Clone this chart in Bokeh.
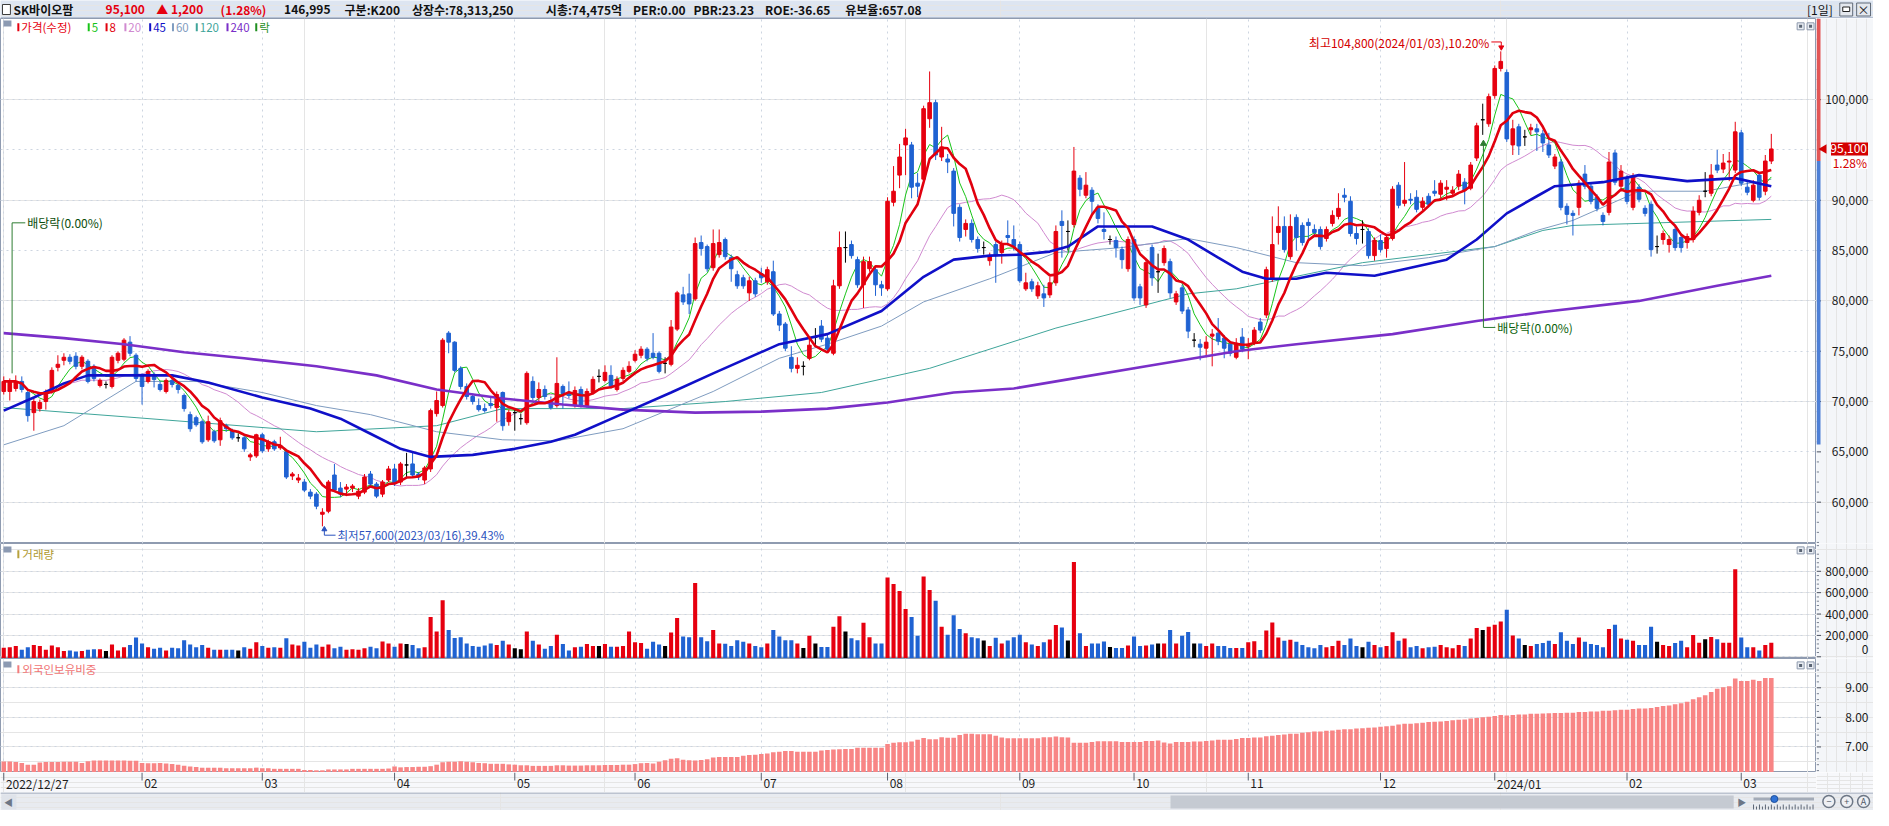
import pandas as pd
from bokeh.plotting import figure
from bokeh.models import Range1d, FixedTicker, Grid, ColumnDataSource
from bokeh.layouts import column, row
from bokeh.embed import file_html
from bokeh.resources import INLINE
from bokeh.core.properties import value

# ------------------------------------------------------------------ data
OPEN = [
    71000, 71000, 71300, 72000, 70900, 68900, 69300, 70000, 71000, 73400,
    74100, 74400, 74500, 73500, 74000, 73500, 71600, 71700, 71500, 74100,
    74200, 75900, 74600, 72600, 72000, 72700, 71700, 71000, 72100, 71600,
    70600, 68700, 68400, 68000, 66200, 67000, 66200, 67600, 67100, 66400,
    66400, 64500, 64600, 66700, 65300, 66000, 65400, 65000, 62600, 62200,
    62000, 61000, 60800, 58800, 59100, 62700, 61400, 61300, 61400, 60600,
    61000, 62800, 61800, 60800, 62200, 63300, 62000, 63700, 63800, 62800,
    62200, 63300, 68800, 69600, 76800, 75900, 73300, 71500, 70500, 69600,
    69300, 69800, 69400, 70900, 68000, 68900, 68300, 67900, 72000, 70400,
    71200, 70100, 69600, 71500, 70900, 69600, 71200, 69600, 70900, 72500,
    72100, 72600, 71200, 72300, 73000, 74100, 74600, 75200, 74800, 74800,
    73800, 73700, 77200, 80600, 80700, 80200, 85800, 85400, 83300, 84600,
    86100, 84300, 82600, 82300, 80800, 82000, 82700, 81900, 82900, 78700,
    77700, 74400, 73300, 73500, 74300, 76400, 77500, 76300, 74800, 81500,
    85300, 85600, 84100, 81600, 83200, 83100, 81600, 81200, 89800, 92500,
    95500, 95500, 91700, 92100, 98100, 99700, 94300, 94100, 92900, 89300,
    87100, 87700, 86100, 85300, 84000, 85600, 84800, 86500, 86100, 85600,
    81200, 81900, 80500, 80700, 80600, 81800, 87900, 86900, 87600, 92200,
    90500, 91000, 89300, 87100, 86100, 86000, 85100, 83200, 86100, 81400,
    79600, 85300, 82900, 83800, 83900, 79900, 81300, 79100, 76100, 75700,
    75300, 76500, 76800, 76300, 75700, 74400, 76400, 75500, 75900, 77900,
    78600, 82200, 86800, 87400, 84400, 88300, 87500, 87800, 87100, 87100,
    86200, 87700, 88400, 90500, 89900, 86700, 87100, 86900, 84500, 86000,
    85200, 86200, 91500, 89700, 90100, 90300, 89300, 90400, 90900, 90600,
    91100, 90700, 91400, 91800, 91200, 94200, 98000, 97600, 100400, 103100,
    102700, 95500, 97300, 96300, 97000, 97100, 96600, 95500, 93400, 93800,
    89400, 88700, 89300, 92600, 91400, 90300, 88500, 88800, 94700, 91400,
    92200, 89300, 91300, 89200, 89600, 85400, 86100, 85600, 87100, 86300,
    85800, 86100, 88800, 90900, 90700, 93500, 93100, 93800, 93000, 96700,
    91300, 90000, 92500, 90900, 93900]
CLOSE = [
    72000, 72000, 72000, 71200, 68600, 70000, 69900, 70900, 73100, 73700,
    74400, 74000, 73500, 74400, 72000, 72300, 72100, 71700, 74400, 74800,
    76100, 74800, 72300, 71500, 73000, 72200, 71200, 72100, 71700, 71200,
    69300, 67300, 67700, 66000, 68000, 66100, 68100, 67300, 66400, 66400,
    65300, 64700, 66700, 65100, 66000, 65300, 65600, 62500, 62800, 62400,
    61200, 60600, 59600, 59000, 62000, 61200, 60800, 61500, 61600, 61100,
    62500, 61800, 60600, 62000, 63300, 61900, 63800, 63700, 62700, 62500,
    63400, 69100, 70100, 76100, 75900, 73100, 71500, 70500, 70000, 69200,
    69100, 69600, 70700, 67600, 68900, 68900, 68300, 72800, 70400, 71200,
    70500, 69400, 71800, 70800, 70600, 71100, 69600, 71000, 72200, 72500,
    72900, 71500, 72200, 73100, 73500, 74700, 75200, 74300, 74400, 73000,
    73800, 77400, 80800, 79900, 79700, 85700, 85200, 83200, 85700, 85800,
    84400, 83200, 81500, 81500, 82000, 80700, 82300, 83100, 78700, 77600,
    75300, 73300, 73600, 73500, 75600, 76400, 76200, 75200, 81500, 85300,
    85300, 84500, 81600, 83900, 83900, 81600, 81300, 89900, 90900, 94300,
    96200, 91300, 91400, 99100, 99700, 94500, 95300, 93800, 88700, 86300,
    87700, 86100, 85200, 85300, 84500, 84500, 85600, 86300, 85400, 82000,
    81800, 81200, 81500, 80300, 81800, 86900, 87500, 86900, 92900, 91100,
    91500, 89900, 88200, 86900, 86100, 85300, 84100, 86100, 80300, 80300,
    83800, 82300, 82900, 85200, 80800, 80700, 79000, 77000, 76100, 75400,
    75900, 76700, 76000, 75300, 74800, 75800, 75200, 75700, 77100, 77100,
    83100, 85600, 87400, 85100, 87400, 86300, 85800, 87500, 86800, 85400,
    87100, 88500, 89200, 90300, 86700, 86200, 87100, 84500, 86000, 85100,
    86300, 91100, 89500, 90000, 90000, 89100, 89900, 89600, 90700, 91700,
    91300, 91000, 92600, 91000, 93500, 97400, 98000, 100300, 103100, 103800,
    96100, 97100, 95400, 96300, 97200, 96800, 95700, 94500, 94300, 89300,
    88600, 88500, 91700, 91400, 89900, 89200, 87900, 93800, 91800, 92900,
    89900, 92400, 90100, 88700, 85100, 85400, 86700, 86100, 85300, 85300,
    86400, 88900, 90000, 90900, 92500, 93000, 93700, 93900, 96800, 91700,
    90800, 91500, 90300, 93900, 95100]
HIGH = [
    72500, 72300, 72600, 72500, 71200, 70300, 70200, 71200, 73400, 74600,
    74800, 74700, 74900, 74600, 74200, 73700, 72300, 72000, 74600, 75000,
    76300, 76500, 74800, 72800, 73200, 72900, 72000, 72300, 72300, 71800,
    70800, 69000, 68600, 68200, 68600, 67200, 68400, 67800, 67300, 66800,
    66600, 64900, 66800, 66900, 66200, 66200, 66500, 65200, 63000, 62800,
    62300, 61300, 61000, 59400, 62200, 63800, 62000, 61800, 61800, 61400,
    62800, 63100, 62000, 62200, 63600, 63800, 64000, 64900, 64900, 63000,
    63600, 69300, 71000, 76300, 77000, 76000, 73500, 71800, 70800, 70300,
    69800, 70500, 71000, 71000, 69200, 69300, 68800, 73000, 72500, 71900,
    71600, 70500, 74400, 71700, 72000, 71500, 71500, 71300, 72500, 73200,
    73600, 73600, 72500, 73400, 74000, 75100, 75500, 75400, 76800, 75000,
    74400, 78100, 81000, 81400, 82700, 86300, 86500, 85600, 87100, 87100,
    86300, 84600, 83000, 82600, 82400, 82300, 83300, 83400, 84000, 79000,
    77900, 75500, 74400, 74000, 76300, 77300, 78100, 76800, 82100, 86900,
    86900, 86000, 84400, 84400, 84400, 83400, 82000, 90300, 93400, 95600,
    97100, 95800, 92700, 99400, 102800, 100000, 97300, 94600, 93200, 89600,
    88100, 88100, 86400, 85900, 84800, 85900, 86000, 88000, 87500, 85900,
    82800, 82200, 81900, 81600, 82400, 87500, 89000, 88000, 95300, 92500,
    92800, 91300, 89600, 88800, 86500, 86400, 85400, 86400, 86400, 81700,
    84100, 85600, 84700, 85500, 84200, 81000, 81600, 79400, 76800, 76200,
    76500, 77200, 78300, 76600, 76000, 76300, 77300, 76300, 77400, 78300,
    83400, 88400, 89400, 88400, 88600, 88600, 87800, 88200, 87600, 87400,
    87400, 89000, 90700, 91200, 90400, 87400, 88000, 87200, 86300, 86600,
    86600, 91400, 91800, 93800, 90700, 91000, 90300, 90700, 92000, 92000,
    92000, 91400, 93000, 92200, 93800, 97700, 99600, 100600, 103400, 104800,
    103000, 98000, 97600, 97000, 97600, 97600, 97000, 96700, 94600, 94100,
    89700, 89000, 92000, 93500, 91700, 90600, 88800, 94800, 95000, 93500,
    92500, 92700, 91600, 89500, 89900, 86500, 87000, 86500, 87400, 86600,
    86700, 89400, 90500, 92800, 93600, 95000, 94600, 94800, 97800, 97000,
    91800, 92000, 92800, 94500, 96600]
LOW = [
    70700, 70100, 71000, 70900, 68000, 67100, 69000, 69200, 70800, 73000,
    73600, 73700, 73200, 73200, 71800, 72000, 71400, 71300, 71300, 73800,
    74000, 74500, 72000, 69700, 71800, 71400, 71000, 70800, 71400, 70800,
    69000, 67000, 67500, 65800, 66000, 65900, 65600, 67000, 66200, 66000,
    65000, 64100, 64400, 64900, 65000, 65100, 65200, 62300, 62200, 61900,
    61000, 60300, 59300, 57600, 58900, 61000, 60500, 60600, 61000, 60300,
    60800, 61500, 60400, 60500, 62000, 61600, 61700, 62400, 62400, 62200,
    61800, 63000, 68500, 69400, 74800, 72900, 71200, 70200, 69700, 69000,
    68900, 69300, 68000, 67100, 67600, 67100, 67700, 67700, 70100, 70000,
    70200, 69200, 69400, 69300, 70300, 69400, 69400, 69400, 70700, 71900,
    71900, 71300, 71000, 72000, 72800, 73900, 74300, 74000, 74200, 72800,
    72800, 73500, 77000, 79600, 78700, 80000, 84500, 82900, 83000, 84300,
    84100, 81900, 81200, 81200, 80000, 80400, 81800, 81600, 78500, 77000,
    75000, 72900, 72800, 72600, 74100, 75600, 75900, 75000, 74600, 81200,
    83800, 84200, 81300, 79300, 82900, 80500, 80500, 81000, 89400, 91200,
    92500, 90200, 90300, 91900, 97200, 94000, 93900, 92700, 87400, 85900,
    86400, 85800, 84800, 84600, 83500, 81800, 83700, 85500, 85000, 81800,
    81000, 80900, 80200, 79400, 80300, 81500, 84300, 85000, 87300, 90400,
    90200, 88600, 87700, 86100, 85600, 84300, 83200, 82900, 80000, 79600,
    79300, 81500, 80800, 83500, 80300, 79600, 78700, 76300, 75400, 74100,
    74400, 73500, 75600, 74300, 74500, 74200, 74900, 74200, 75600, 76800,
    78300, 81900, 85600, 84800, 84100, 85000, 85500, 86000, 86500, 85100,
    85900, 87400, 88100, 89800, 86400, 85600, 85700, 84200, 84000, 84800,
    84300, 86000, 89200, 89400, 89600, 88800, 89000, 89300, 90400, 90200,
    90000, 90400, 91000, 89600, 91000, 93900, 96500, 97300, 100100, 102800,
    95800, 94500, 94500, 95400, 96500, 94900, 94800, 94200, 93100, 89000,
    87600, 86500, 88500, 91100, 89600, 88900, 87500, 88500, 91500, 91100,
    89600, 89000, 89800, 88400, 84400, 84700, 85600, 84800, 85000, 84800,
    85200, 85800, 88500, 90300, 90400, 92700, 92700, 91900, 92700, 91400,
    90500, 89800, 90000, 90500, 93600]
VOLUME = [
    85000, 90000, 100000, 65000, 90000, 110000, 100000, 65000, 105000, 90000,
    55000, 60000, 50000, 55000, 65000, 70000, 70000, 55000, 115000, 60000,
    90000, 110000, 180000, 125000, 90000, 75000, 85000, 60000, 85000, 80000,
    155000, 115000, 90000, 110000, 85000, 65000, 65000, 65000, 65000, 60000,
    90000, 75000, 136000, 100000, 85000, 90000, 85000, 173000, 115000, 105000,
    140000, 85000, 115000, 95000, 115000, 80000, 95000, 65000, 70000, 65000,
    80000, 95000, 80000, 142000, 125000, 95000, 125000, 120000, 110000, 80000,
    90000, 373000, 236000, 530000, 251000, 176000, 182000, 125000, 100000, 95000,
    105000, 125000, 110000, 150000, 115000, 80000, 70000, 236000, 150000, 115000,
    75000, 100000, 206000, 120000, 60000, 90000, 95000, 120000, 100000, 100000,
    120000, 95000, 95000, 100000, 236000, 135000, 130000, 75000, 140000, 115000,
    100000, 227000, 364000, 191000, 182000, 691000, 182000, 145000, 251000, 124000,
    121000, 100000, 155000, 140000, 124000, 100000, 90000, 124000, 251000, 191000,
    155000, 155000, 124000, 82000, 197000, 124000, 91000, 91000, 282000, 379000,
    236000, 173000, 155000, 318000, 182000, 124000, 124000, 742000, 682000, 615000,
    448000, 373000, 197000, 751000, 624000, 524000, 282000, 206000, 388000, 261000,
    221000, 182000, 173000, 152000, 100000, 179000, 124000, 152000, 182000, 206000,
    136000, 115000, 100000, 136000, 161000, 297000, 273000, 152000, 888000, 221000,
    100000, 124000, 124000, 142000, 91000, 82000, 82000, 106000, 191000, 100000,
    106000, 115000, 124000, 124000, 251000, 124000, 197000, 233000, 124000, 124000,
    100000, 124000, 100000, 100000, 82000, 82000, 82000, 136000, 145000, 64000,
    245000, 320000, 180000, 150000, 160000, 140000, 110000, 90000, 80000, 110000,
    90000, 100000, 150000, 110000, 170000, 100000, 90000, 140000, 110000, 90000,
    100000, 230000, 150000, 170000, 90000, 100000, 80000, 90000, 95000, 110000,
    90000, 80000, 110000, 100000, 170000, 270000, 250000, 280000, 300000, 330000,
    440000, 200000, 170000, 110000, 100000, 120000, 130000, 150000, 120000, 230000,
    150000, 120000, 180000, 140000, 120000, 110000, 90000, 260000, 300000, 170000,
    160000, 150000, 110000, 110000, 280000, 140000, 110000, 100000, 130000, 150000,
    90000, 205000, 132000, 164000, 186000, 164000, 132000, 132000, 820000, 181000,
    90000, 90000, 58000, 110000, 132000]
FOREIGN = [
    6.51, 6.51, 6.49, 6.46, 6.40, 6.40, 6.47, 6.49, 6.49, 6.49,
    6.50, 6.50, 6.50, 6.46, 6.52, 6.54, 6.54, 6.54, 6.54, 6.54,
    6.54, 6.53, 6.53, 6.46, 6.45, 6.45, 6.46, 6.44, 6.42, 6.40,
    6.36, 6.34, 6.32, 6.30, 6.30, 6.30, 6.30, 6.28, 6.28, 6.28,
    6.28, 6.28, 6.30, 6.28, 6.28, 6.26, 6.26, 6.26, 6.26, 6.26,
    6.22, 6.22, 6.21, 6.21, 6.24, 6.24, 6.24, 6.24, 6.26, 6.26,
    6.26, 6.26, 6.26, 6.26, 6.27, 6.34, 6.31, 6.32, 6.32, 6.33,
    6.33, 6.35, 6.40, 6.48, 6.50, 6.50, 6.52, 6.50, 6.48, 6.46,
    6.45, 6.43, 6.43, 6.43, 6.41, 6.40, 6.38, 6.38, 6.36, 6.36,
    6.36, 6.36, 6.38, 6.38, 6.37, 6.37, 6.37, 6.38, 6.38, 6.38,
    6.39, 6.39, 6.39, 6.40, 6.40, 6.42, 6.45, 6.46, 6.44, 6.50,
    6.55, 6.60, 6.62, 6.57, 6.55, 6.54, 6.56, 6.58, 6.64, 6.66,
    6.66, 6.66, 6.66, 6.70, 6.73, 6.74, 6.76, 6.78, 6.82, 6.84,
    6.86, 6.86, 6.84, 6.84, 6.84, 6.84, 6.88, 6.90, 6.91, 6.92,
    6.93, 6.93, 6.97, 6.97, 6.97, 6.97, 6.97, 7.10, 7.14, 7.16,
    7.16, 7.18, 7.24, 7.30, 7.26, 7.26, 7.33, 7.31, 7.31, 7.40,
    7.45, 7.45, 7.43, 7.43, 7.43, 7.38, 7.32, 7.29, 7.29, 7.29,
    7.29, 7.29, 7.29, 7.33, 7.33, 7.35, 7.33, 7.32, 7.14, 7.14,
    7.14, 7.17, 7.19, 7.19, 7.19, 7.19, 7.17, 7.17, 7.17, 7.17,
    7.20, 7.20, 7.22, 7.15, 7.12, 7.17, 7.17, 7.17, 7.18, 7.18,
    7.20, 7.22, 7.24, 7.24, 7.24, 7.27, 7.30, 7.30, 7.32, 7.32,
    7.36, 7.38, 7.40, 7.42, 7.45, 7.45, 7.48, 7.50, 7.52, 7.52,
    7.55, 7.56, 7.58, 7.60, 7.60, 7.62, 7.63, 7.65, 7.66, 7.68,
    7.70, 7.72, 7.76, 7.78, 7.78, 7.80, 7.82, 7.84, 7.85, 7.86,
    7.88, 7.90, 7.92, 7.93, 7.96, 7.98, 8.00, 8.02, 8.05, 8.08,
    8.06, 8.08, 8.10, 8.10, 8.12, 8.12, 8.13, 8.14, 8.15, 8.15,
    8.16, 8.16, 8.18, 8.18, 8.20, 8.20, 8.22, 8.22, 8.24, 8.26,
    8.26, 8.28, 8.30, 8.30, 8.32, 8.35, 8.38, 8.40, 8.44, 8.48,
    8.53, 8.61, 8.68, 8.75, 8.86, 8.97, 9.02, 9.05, 9.31, 9.23,
    9.23, 9.27, 9.23, 9.33, 9.33]

# long moving averages (candle index, value)
MA45_IDX = [0, 5, 10, 14, 21, 28, 34, 43, 51, 56, 61, 66, 71, 78, 85, 91, 95, 103, 111, 118,
            129, 137, 146, 153, 158, 164, 169, 174, 177, 182, 191, 197, 202, 206, 210, 215,
            220, 228, 234, 240, 245, 250, 255, 258, 266, 272, 280, 288, 294]
MA45_VAL = [69100, 70400, 71800, 72600, 72600, 72600, 71900, 70400, 69300, 68300, 66800, 65300,
            64500, 64700, 65300, 66000, 66700, 68800, 70900, 72800, 75700, 76700, 79000, 82400,
            84100, 84500, 84600, 84900, 85400, 87400, 87400, 86100, 84300, 82900, 82200, 82200,
            82800, 82500, 83300, 84100, 86100, 88700, 90400, 91400, 91800, 92500, 91900, 92200, 91400]
MA60_IDX = [0, 10, 22, 32, 43, 52, 61, 72, 83, 92, 103, 118, 129, 137, 146, 153, 164, 175, 186,
            197, 205, 215, 226, 237, 248, 255, 261, 272, 283, 294]
MA60_VAL = [65700, 67600, 72000, 72000, 70900, 69600, 68700, 67000, 66200, 66100, 67300, 71000,
            74300, 75700, 77500, 79900, 82200, 84800, 85300, 86200, 85300, 83800, 83500, 84300,
            85400, 87000, 88000, 90900, 90900, 92100]
MA120_IDX = [0, 22, 52, 72, 83, 103, 120, 136, 154, 175, 197, 205, 226, 248, 256, 261, 294]
MA120_VAL = [69400, 68400, 67000, 67600, 69300, 69300, 70000, 70900, 73300, 77300, 80700,
             81200, 83800, 85400, 87000, 87500, 88100]
MA240_IDX = [0, 10, 20, 30, 40, 52, 62, 72, 83, 93, 103, 115, 126, 137, 147, 158, 168, 177,
             191, 205, 215, 231, 245, 256, 272, 285, 294]
MA240_VAL = [76800, 76300, 75700, 74900, 74300, 73500, 72600, 71200, 70300, 69700, 69200,
             68900, 69000, 69300, 69900, 70900, 71300, 72200, 73600, 75000, 75700, 76700,
             78000, 78900, 80000, 81500, 82500]

HOLIDAYS = ["2022-12-30", "2023-01-23", "2023-01-24", "2023-03-01", "2023-05-01", "2023-05-05",
            "2023-05-29", "2023-06-06", "2023-08-15", "2023-09-28", "2023-09-29", "2023-10-02",
            "2023-10-03", "2023-10-09", "2023-12-25", "2023-12-29", "2024-01-01", "2024-02-09",
            "2024-02-12", "2024-03-01"]
TICK_DATES = ["2022-12-27", "2023-02-01", "2023-03-02", "2023-04-03", "2023-05-02", "2023-06-01",
              "2023-07-03", "2023-08-01", "2023-09-01", "2023-10-04", "2023-11-01", "2023-12-01",
              "2024-01-02", "2024-02-01", "2024-03-04"]
TICK_LABELS = ["2022/12/27", "02", "03", "04", "05", "06", "07", "08", "09", "10", "11", "12",
               "2024/01", "02", "03"]

PRICE_TICKS = [60000, 65000, 70000, 75000, 80000, 85000, 90000, 95000, 100000]
PRICE_LABEL_TICKS = [60000, 65000, 70000, 75000, 80000, 85000, 90000, 100000]
PRICE_LABELS = ["60,000", "65,000", "70,000", "75,000", "80,000", "85,000", "90,000", "100,000"]
VOL_TICKS = [0, 200000, 400000, 600000, 800000]
VOL_LABELS = ["0", "200,000", "400,000", "600,000", "800,000"]
FOR_TICKS = [7.0, 8.0, 9.0]
FOR_LABELS = ["7.00", "8.00", "9.00"]

HEAD_TEXT = ["SK바이오팜", "95,100", "▲", "1,200", "(1.28%)", "146,995", "구분:K200",
             "상장수:78,313,250", "시총:74,475억", "PER:0.00", "PBR:23.23", "ROE:-36.65",
             "유보율:657.08"]
LEGEND_TEXT = ["가격(수정)", "5", "8", "20", "45", "60", "120", "240", "락"]

LAST_PRICE = 95100
LAST_PRICE_TEXT = "95,100"
CHANGE_PCT_TEXT = "1.28%"
PREV_CLOSE = 93900
LOWER_LIMIT = 65730

# ------------------------------------------------------------------ style
FONT = "Noto Sans CJK KR"
UP, DOWN, FLAT = "#e6000f", "#1f62d2", "#000000"
GRID, BORDER, AXIS_BG, HEAD_BG = "#cdd5e0", "#8f9bb0", "#f4f6f9", "#dde5f1"
C5, C8, C20, C45, C60, C120, C240 = "#18c418", "#e1000e", "#d08ad0", "#1010c8", "#7f9cc0", "#3fa59a", "#7a2fc8"

W = 1873
RIGHT = 57
FW = W - RIGHT
H_HEAD, H_PRICE, H_VOL, H_FOR, H_AX, H_SCR = 18, 525, 115, 114, 20, 18
SX = W / 1889.0

N = len(CLOSE)
IDX = list(range(N))
DATES = pd.bdate_range("2022-12-27", "2024-03-11", freq="C", holidays=HOLIDAYS)
TICK_IDX = [int(DATES.get_loc(pd.Timestamp(d))) for d in TICK_DATES]


def PX(px):   # reference pixel column -> candle index units
    return (px - 3.3) / 6.065


def PY(py):   # reference pixel row -> price (price panel)
    return 100000 - (py - 100) * 97.15


P_LO, P_HI = PY(554), PY(17)
V_LO, V_HI = -16000, 1060000
F_LO, F_HI = 6.136, 9.99


def VY(py):
    return V_HI - (py - 554) * (V_HI - V_LO) / 117.0


def FY(py):
    return F_HI - (py - 671) * (F_HI - F_LO) / 116.0


xr = Range1d(PX(0), PX(1832))
yr_p, yr_v, yr_f = Range1d(P_LO, P_HI), Range1d(V_LO, V_HI), Range1d(F_LO, F_HI)

colors = [UP if c > o else (DOWN if c < o else FLAT) for o, c in zip(OPEN, CLOSE)]
src = ColumnDataSource(dict(x=IDX, o=OPEN, h=HIGH, l=LOW, c=CLOSE,
                            top=[max(a, b) for a, b in zip(OPEN, CLOSE)],
                            bot=[min(a, b) for a, b in zip(OPEN, CLOSE)],
                            col=colors, vol=VOLUME, fr=FOREIGN))

s = pd.Series(CLOSE, dtype=float)
MA5 = s.rolling(5, min_periods=1).mean().tolist()
MA8 = s.rolling(8, min_periods=1).mean().tolist()
MA20 = s.rolling(20, min_periods=1).mean().tolist()


def bare(width, height, x_range, y_range, bg, outline=None):
    return figure(width=width, height=height, x_range=x_range, y_range=y_range,
                  x_axis_location=None, y_axis_location=None, toolbar_location=None,
                  output_backend="svg", min_border=0, background_fill_color=bg,
                  border_fill_color=bg, outline_line_color=outline)


def panel(height, yr, yticks):
    f = bare(FW, height, xr, yr, "white", BORDER)
    f.add_layout(Grid(dimension=0, ticker=FixedTicker(ticks=TICK_IDX),
                      grid_line_color=GRID, grid_line_dash="dotted"))
    f.add_layout(Grid(dimension=1, ticker=FixedTicker(ticks=yticks),
                      grid_line_color=GRID, grid_line_dash="dotted"))
    return f


def txt(f, xs, ys, texts, colors_, size="12px", align="left", style="normal"):
    f.text(x=xs, y=ys, text=texts, text_color=colors_, text_font=value(FONT),
           text_font_size=value(size), text_baseline="middle", text_align=align,
           text_font_style=style)


def scale_strip(height, yr, major, minor, label_ticks, labels, label_y=None):
    st = bare(RIGHT, height, Range1d(0, RIGHT), yr, AXIS_BG)
    st.segment(x0=[0] * len(minor), y0=minor, x1=[2.5] * len(minor), y1=minor,
               line_color="#7a8290", line_width=1)
    st.segment(x0=[0] * len(major), y0=major, x1=[4.5] * len(major), y1=major,
               line_color="#4a5160", line_width=1)
    ys = label_y if label_y is not None else label_ticks
    txt(st, [52] * len(labels), ys, labels, ["#1e1e1e"] * len(labels), align="right")
    return st


def corner_buttons(f, yy, ymap):
    f.rect(x=[PX(1816), PX(1826)], y=[ymap(yy)] * 2, width=7, height=7,
           width_units="screen", height_units="screen", fill_color="#e9edf3", line_color="#8c98ac")
    f.rect(x=[PX(1816), PX(1826)], y=[ymap(yy)] * 2, width=3, height=3,
           width_units="screen", height_units="screen", fill_color="#5a6473", line_color=None)


def panel_icon(f, yy, ymap):
    f.rect(x=[PX(7)], y=[ymap(yy)], width=8, height=6, width_units="screen",
           height_units="screen", fill_color="#8c9ab2", line_color=None)


# ------------------------------------------------------------------ header
hd = bare(W, H_HEAD, Range1d(0, W), Range1d(H_HEAD, 0), HEAD_BG)
hd.quad(left=[2 * SX], right=[10 * SX], top=[4], bottom=[14], fill_color="white", line_color="#3c3c3c")
HEAD_X = [13, 106, 157, 172, 222, 286, 347, 415, 550, 638, 699, 771, 852]
HEAD_COL = ["#111111", UP, UP, UP, UP] + ["#111111"] * 8
txt(hd, [x * SX for x in HEAD_X], [9] * len(HEAD_TEXT), HEAD_TEXT, HEAD_COL, size="12px", style="bold")
txt(hd, [1822 * SX], [9], ["[1일]"], ["#111111"], size="12px")
hd.quad(left=[1855 * SX, 1872 * SX], right=[1868 * SX, 1886 * SX], top=[2.5, 2.5], bottom=[15.5, 15.5],
        fill_color="#e4e8ee", line_color="#606a78")
hd.quad(left=[1858 * SX], right=[1865 * SX], top=[6.5], bottom=[11], fill_color="white", line_color="#222")
txt(hd, [1879 * SX], [9], ["×"], ["#222222"], size="12px", align="center")
hd.segment(x0=[0], y0=[H_HEAD - 0.5], x1=[W], y1=[H_HEAD - 0.5], line_color=BORDER)

# ------------------------------------------------------------------ price panel
p = panel(H_PRICE, yr_p, PRICE_TICKS)
p.line(IDX, MA20, color=C20, line_width=1)
p.line(MA120_IDX, MA120_VAL, color=C120, line_width=1)
p.line(MA60_IDX, MA60_VAL, color=C60, line_width=1)
p.line(IDX, MA5, color=C5, line_width=1)
p.segment(x0="x", y0="h", x1="x", y1="l", color="col", line_width=1, source=src)
p.vbar(x="x", width=0.6, top="top", bottom="bot", fill_color="col", line_color="col",
       line_width=1, source=src)
p.line(MA240_IDX, MA240_VAL, color=C240, line_width=2.6)
p.line(MA45_IDX, MA45_VAL, color=C45, line_width=2.6)
p.line(IDX, MA8, color=C8, line_width=2.6)

panel_icon(p, 22, PY)
LEG_X = [21, 92, 110, 129, 154, 177, 201, 232, 261]
LEG_COL = [UP, C5, C8, C20, C45, C60, C120, C240, "#1f8f1f"]
p.rect(x=[PX(x - 3) for x in LEG_X], y=[PY(26)] * len(LEG_X), width=2, height=8,
       width_units="screen", height_units="screen", fill_color=LEG_COL, line_color=None)
txt(p, [PX(x) for x in LEG_X], [PY(26)] * len(LEG_X), LEGEND_TEXT, LEG_COL, size="11.5px")
corner_buttons(p, 25, PY)

G1 = "#2e7d32"
p.line([PX(11.7), PX(11.7), PX(25)], [PY(380), PY(226), PY(226)], color=G1, line_width=1)
txt(p, [PX(27)], [PY(226)], ["배당락(0.00%)"], ["#0b4d0b"])
p.line([PX(1496), PX(1496), PX(1508)], [PY(146), PY(333), PY(333)], color=G1, line_width=1)
p.scatter([PX(1496)], [PY(145)], marker="triangle", size=6, fill_color=G1, line_color=G1)
txt(p, [PX(1510)], [PY(333)], ["배당락(0.00%)"], ["#0b5f0b"])
p.line([PX(1504), PX(1514), PX(1514)], [PY(41), PY(41), PY(45)], color=UP, line_width=1)
p.scatter([PX(1514)], [PY(46.5)], marker="inverted_triangle", size=5, fill_color=UP, line_color=UP)
txt(p, [PX(1502)], [PY(42)], ["최고104,800(2024/01/03),10.20%"], ["#d40000"], align="right")
BL = "#2a52be"
p.line([PX(326.7), PX(326.7), PX(338)], [PY(540), PY(545.5), PY(545.5)], color=BL, line_width=1)
p.scatter([PX(326.7)], [PY(539.5)], marker="triangle", size=5, fill_color=BL, line_color=BL)
txt(p, [PX(340)], [PY(545.5)], ["최저57,600(2023/03/16),39.43%"], [BL], size="11.5px")

ps = scale_strip(H_PRICE, yr_p, PRICE_TICKS, [v for v in range(56000, 108001, 1000) if v % 5000],
                 PRICE_LABEL_TICKS, PRICE_LABELS)
# daily price-limit band along the scale, and the current price tag
ps.quad(left=[0], right=[4], bottom=[PREV_CLOSE], top=[P_HI], fill_color="#e25555", line_color=None)
ps.quad(left=[0], right=[4], bottom=[LOWER_LIMIT], top=[PREV_CLOSE], fill_color="#4d7fd6", line_color=None)
ps.patch(x=[2, 10, 10], y=[LAST_PRICE, LAST_PRICE + 470, LAST_PRICE - 470],
         fill_color="#d40000", line_color=None)
ps.quad(left=[14.5], right=[51.5], bottom=[LAST_PRICE - 640], top=[LAST_PRICE + 640],
        fill_color="#d40000", line_color=None)
txt(ps, [50.5], [LAST_PRICE], [LAST_PRICE_TEXT], ["white"], align="right")
ps.quad(left=[14.5], right=[51.5], bottom=[PY(171)], top=[PY(158)], fill_color="white", line_color=None)
txt(ps, [50.5], [PY(164.5)], [CHANGE_PCT_TEXT], ["#d40000"], align="right")

# ------------------------------------------------------------------ volume panel
pv = panel(H_VOL, yr_v, VOL_TICKS)
pv.vbar(x="x", width=0.68, top="vol", bottom=V_LO, fill_color="col", line_color=None, source=src)
panel_icon(pv, 560, VY)
pv.rect(x=[PX(18)], y=[VY(565)], width=2, height=8, width_units="screen", height_units="screen",
        fill_color="#b8a23c", line_color=None)
txt(pv, [PX(22)], [VY(565)], ["거래량"], ["#b09a30"], size="11.5px")
corner_buttons(pv, 561, VY)
# the "0" label sits a little above the zero line so that it stays inside the strip
pvs = scale_strip(H_VOL, yr_v, VOL_TICKS, [v for v in range(40000, 1040001, 40000) if v % 200000],
                  VOL_TICKS, VOL_LABELS, label_y=[VY(661.5)] + VOL_TICKS[1:])

# ------------------------------------------------------------------ foreign ownership panel
pf = panel(H_FOR, yr_f, FOR_TICKS)
pf.vbar(x="x", width=0.76, top="fr", bottom=F_LO, fill_color="#f88585", line_color=None, source=src)
panel_icon(pf, 677, FY)
pf.rect(x=[PX(18)], y=[FY(682)], width=2, height=8, width_units="screen", height_units="screen",
        fill_color="#f47c7c", line_color=None)
txt(pf, [PX(22)], [FY(682)], ["외국인보유비중"], ["#f07474"], size="11.5px")
corner_buttons(pf, 678, FY)
pfs = scale_strip(H_FOR, yr_f, FOR_TICKS, [6.2, 6.4, 6.6, 6.8, 7.2, 7.4, 7.6, 7.8, 8.2, 8.4, 8.6, 8.8, 9.2, 9.4, 9.6, 9.8],
                  FOR_TICKS, FOR_LABELS)

# ------------------------------------------------------------------ date axis row
pa = bare(FW, H_AX, xr, Range1d(H_AX, 0), "#f7f8fb")
pa.segment(x0=TICK_IDX, y0=[0] * len(TICK_IDX), x1=TICK_IDX, y1=[8] * len(TICK_IDX),
           line_color="#5a6270", line_width=1)
txt(pa, [t + 0.35 for t in TICK_IDX], [11] * len(TICK_IDX), TICK_LABELS,
    ["#1e1e1e"] * len(TICK_IDX))
pa_fill = bare(RIGHT, H_AX, Range1d(0, 1), Range1d(0, 1), "#f7f8fb")

# ------------------------------------------------------------------ scroll bar row
sc = bare(W, H_SCR, Range1d(0, W), Range1d(H_SCR, 0), "#e8ebf0")
sc.segment(x0=[0], y0=[0.5], x1=[W], y1=[0.5], line_color=BORDER)
sc.quad(left=[1 * SX], right=[16 * SX], top=[2], bottom=[17], fill_color="#dfe3ea", line_color=None)
txt(sc, [8 * SX], [9.5], ["◀"], ["#6d7786"], size="9px", align="center")
sc.quad(left=[1180 * SX], right=[1748 * SX], top=[3], bottom=[16], fill_color="#c5cad2", line_color=None)
txt(sc, [1756 * SX], [9.5], ["▶"], ["#6d7786"], size="9px", align="center")
sc.segment(x0=[1768 * SX], y0=[6.5], x1=[1829 * SX], y1=[6.5], line_color="#a3abb8", line_width=3)
sc.scatter(x=[1789 * SX], y=[6.5], marker="circle", size=7, fill_color="#2f72d6", line_color="#1d4f9c")
RULER = [1768 + 3 * k for k in range(21)]
sc.segment(x0=[r * SX for r in RULER], y0=[14 if k % 2 else 12 for k in range(21)],
           x1=[r * SX for r in RULER], y1=[17] * 21, line_color="#5c6676", line_width=1)
sc.scatter(x=[1844 * SX, 1862 * SX, 1879 * SX], y=[9, 9, 9], marker="circle", size=12,
           fill_color="#eef0f4", line_color="#6d7786", line_width=1.5)
txt(sc, [1844 * SX, 1862 * SX, 1879 * SX], [9, 9, 9], ["−", "+", "A"], ["#4d5665"] * 3,
    size="9px", align="center")

layout = column(hd, row(p, ps, spacing=0), row(pv, pvs, spacing=0), row(pf, pfs, spacing=0),
                row(pa, pa_fill, spacing=0), sc, spacing=0)
open("out.html", "w").write(file_html(layout, INLINE))
